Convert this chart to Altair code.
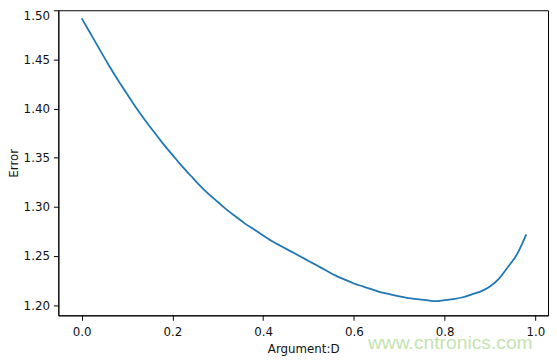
import altair as alt
import pandas as pd

x_vals = [0.00, 0.02, 0.04, 0.06, 0.08, 0.10, 0.12, 0.14, 0.16, 0.18,
          0.20, 0.22, 0.24, 0.26, 0.28, 0.30, 0.32, 0.34, 0.36, 0.38,
          0.40, 0.42, 0.44, 0.46, 0.48, 0.50, 0.52, 0.54, 0.56, 0.58,
          0.60, 0.62, 0.64, 0.66, 0.68, 0.70, 0.72, 0.74, 0.76, 0.78,
          0.80, 0.82, 0.84, 0.86, 0.88, 0.90, 0.92, 0.94, 0.96, 0.98]
err_vals = [1.492, 1.476, 1.460, 1.444, 1.429, 1.415, 1.401, 1.388, 1.376, 1.364,
            1.353, 1.342, 1.332, 1.322, 1.313, 1.305, 1.297, 1.290, 1.283, 1.277,
            1.271, 1.265, 1.260, 1.255, 1.250, 1.245, 1.240, 1.235, 1.230, 1.226,
            1.222, 1.219, 1.216, 1.213, 1.211, 1.209, 1.207, 1.206, 1.205, 1.204,
            1.205, 1.206, 1.208, 1.211, 1.214, 1.219, 1.227, 1.239, 1.252, 1.272]
x_ticks = [0.0, 0.2, 0.4, 0.6, 0.8, 1.0]
y_ticks = [1.20, 1.25, 1.30, 1.35, 1.40, 1.45, 1.50]
watermark = ["www.cntronics.com"]

df = pd.DataFrame({"D": x_vals, "Error": err_vals})
wm = pd.DataFrame({"t": watermark})

FONT = "DejaVu Sans"

line = alt.Chart(df).mark_line(color="#1f77b4", strokeWidth=1.8,
                               interpolate="monotone").encode(
    x=alt.X("D:Q",
            scale=alt.Scale(domain=[-0.0516, 1.028], nice=False, zero=False),
            axis=alt.Axis(values=x_ticks, format=".1f", title="Argument:D",
                          grid=False, tickSize=5, labelPadding=6,
                          titlePadding=7)),
    y=alt.Y("Error:Q",
            scale=alt.Scale(domain=[1.1896, 1.5003], nice=False, zero=False),
            axis=alt.Axis(values=y_ticks, format=".2f", title="Error",
                          grid=False, tickSize=5, labelPadding=4,
                          labelFlush=True,
                          titleX=-38, titleBaseline="bottom")),
)

text = alt.Chart(wm).mark_text(
    font="Liberation Sans", fontSize=19.5, color="#c5e3b0", align="center",
    baseline="middle"
).encode(text="t:N", x=alt.value(397), y=alt.value(337))

chart = alt.layer(line, text).properties(
    width=496, height=309,
    autosize=alt.AutoSizeParams(type="none"),
    padding={"left": 51, "top": 0, "right": 1, "bottom": 46},
).configure_view(
    stroke="black", strokeWidth=1
).configure_axis(
    domainColor="black", tickColor="black", labelColor="#111",
    titleColor="#111", labelFont=FONT, titleFont=FONT,
    labelFontSize=12, titleFontSize=12, titleFontWeight="normal",
    domainWidth=1, tickWidth=1
)

chart.save("out.html", embed_options={"renderer": "svg", "actions": False})
